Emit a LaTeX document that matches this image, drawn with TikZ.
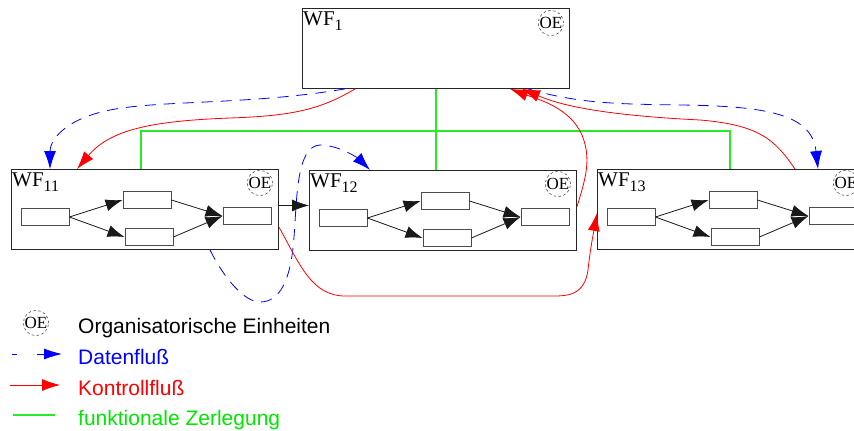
\documentclass[tikz,border=0pt]{standalone}
\usepackage{fontspec}
\setmainfont{Liberation Serif}
\newfontfamily\legfont{Liberation Sans}
\usetikzlibrary{arrows.meta,calc}
\definecolor{ublue}{RGB}{0,0,255}
\definecolor{ured}{RGB}{255,0,0}
\definecolor{ugreen}{RGB}{40,235,40}
\definecolor{ugreentext}{RGB}{0,230,0}
\tikzset{
 wf/.style={draw=black!85, line width=0.9pt, minimum width=267pt, minimum height=80pt, inner sep=0pt},
 wflabel/.style={inner xsep=1pt, inner ysep=4pt, font=\fontsize{21}{21}\selectfont},
 oe/.style={circle, draw=black!80, dash pattern=on 2.5pt off 2.5pt, line width=0.5pt, minimum size=22pt, inner sep=0pt, font=\fontsize{17}{17}\selectfont},
 task/.style={draw=black!70, line width=0.9pt, minimum width=48pt, minimum height=17pt, inner sep=0pt},
 flow/.style={draw=black!90, line width=0.8pt, -{Latex[length=17pt,width=12pt]}},
 dataflow/.style={draw=ublue, line width=0.8pt, dash pattern=on 11pt off 8pt, -{Latex[length=18pt,width=12pt]}},
 ctrlflow/.style={draw=ured, line width=0.8pt, -{Latex[length=18pt,width=12pt]}},
 func/.style={draw=ugreen, line width=1.4pt},
 legtext/.style={font=\legfont\fontsize{21}{21}\selectfont, inner sep=0pt, anchor=base west},
}
\newcommand{\WFbox}[4]{%
 \node[wf, anchor=north west] (#1) at (#3,#4) {};
 \node[wflabel, anchor=north west] (#1-lbl) at (#1.north west) {WF\raisebox{-5pt}{\fontsize{16}{16}\selectfont #2}};
 \node[oe] (#1-oe) at ($(#1.north east)+(-19,14)$) {OE};
 \node[task] (#1-a) at ($(#1.north west)+(34,48)$) {};
 \node[task] (#1-b) at ($(#1.north west)+(136,31)$) {};
 \node[task] (#1-c) at ($(#1.north west)+(138,68)$) {};
 \node[task] (#1-d) at ($(#1.north west)+(236,47)$) {};
 \draw[flow] (#1-a.east) -- (#1-b.west);
 \draw[flow] (#1-a.east) -- (#1-c.west);
 \draw[flow] (#1-b.east) -- (#1-d.west);
 \draw[flow] (#1-c.east) -- (#1-d.west);
}
\begin{document}
\begin{tikzpicture}[x=1pt,y=-1pt]
\useasboundingbox (0,0) rectangle (854,431);
\clip (0,0) rectangle (854,431);
\fill[white] (0,0) rectangle (854,431);
\coordinate (gh) at (0,131);

% top workflow
\node[wf, anchor=north west] (w1) at (302,8) {};
\node[wflabel, anchor=north west] (w1-lbl) at (w1.north west) {WF\raisebox{-5pt}{\fontsize{16}{16}\selectfont 1}};
\node[oe] (w1-oe) at ($(w1.north east)+(-19,15)$) {OE};

% sub workflows
\WFbox{w11}{11}{11}{169}
\WFbox{w12}{12}{309}{170}
\WFbox{w13}{13}{597}{169}

% WF11 -> WF12
\draw[flow] ($(w11.east)+(0,-4)$) -- ($(w12.west)+(0,-5)$);

% functional decomposition
\draw[func] (w1.south) -- (w1.south |- w12.north);
\draw[func] ($(w11.north)+(-4,0)$) -- ($(w11.north |- gh)+(-4,0)$) -- ($(w13.north |- gh)+(-1,0)$) -- ($(w13.north)+(-1,0)$);

% data flows
\coordinate (d1s) at ($(w1.south west)+(43,0)$);
\coordinate (d1e) at ($(w11.north west)+(39,0)$);
\draw[dataflow] (d1s) .. controls (250,105) and (160,100) .. (110,110) .. controls (65,119) and (50,140) .. (d1e);
\coordinate (d2s) at ($(w1.south west)+(226,0)$);
\coordinate (d2e) at ($(w13.north west)+(221,0)$);
\draw[dataflow] (d2s) .. controls (580,104) and (620,104) .. (680,105) .. controls (770,106) and (812,115) .. (d2e);
\coordinate (d3s) at ($(w11.south west)+(199,0)$);
\coordinate (d3e) at ($(w12.north west)+(61,0)$);
\draw[dataflow] (d3s) .. controls (225,280) and (245,302) .. (260,302) .. controls (280,302) and (291,280) .. (294,237) .. controls (297,200) and (296,146) .. (320,145) .. controls (340,145) and (360,160) .. (d3e);

% control flows
\coordinate (r1s) at ($(w1.south west)+(53,0)$);
\coordinate (r1e) at ($(w11.north west)+(66,0)$);
\draw[ctrlflow] (r1s) .. controls (320,110) and (290,116) .. (230,118) .. controls (150,121) and (110,130) .. (r1e);
\coordinate (r2s) at ($(w12.north east)+(0,37)$);
\coordinate (r2e) at ($(w1.south west)+(208,0)$);
\draw[ctrlflow] (r2s) .. controls (585,180) and (592,160) .. (582,135) .. controls (570,108) and (540,100) .. (r2e);
\coordinate (r3s) at ($(w13.north west)+(198,0)$);
\coordinate (r3e) at ($(w1.south west)+(220,0)$);
\draw[ctrlflow] (r3s) .. controls (775,140) and (760,125) .. (700,120) .. controls (600,115) and (560,105) .. (r3e);
\coordinate (r4s) at ($(w11.north east)+(0,58)$);
\coordinate (r4e) at ($(w13.north west)+(0,44)$);
\draw[ctrlflow] (r4s) .. controls (300,265) and (312,296) .. (345,296) -- (555,296) .. controls (575,296) and (585,290) .. (588,270) .. controls (590,250) and (594,230) .. (r4e);

% legend
\node[oe] (lg-oe) at (36,323) {OE};
\node[legtext] (lg-t1) at (78,333) {Organisatorische Einheiten};
\coordinate (lb1) at (12,354); \coordinate (lb2) at (17,354);
\coordinate (lb3) at (37,354); \coordinate (lb4) at (62,354);
\draw[ublue, line width=0.8pt] (lb1) -- (lb2);
\draw[ublue, line width=0.8pt, -{Latex[length=18pt,width=11pt]}] (lb3) -- (lb4);
\node[legtext, text=ublue] (lg-t2) at (78,364) {Datenfluß};
\coordinate (lr1) at (10,385); \coordinate (lr2) at (60,385);
\draw[ctrlflow] (lr1) -- (lr2);
\node[legtext, text=ured] (lg-t3) at (78,395) {Kontrollfluß};
\coordinate (lg1) at (13,415); \coordinate (lg2) at (55,415);
\draw[func] (lg1) -- (lg2);
\node[legtext, text=ugreentext] (lg-t4) at (78,425) {funktionale Zerlegung};
\end{tikzpicture}
\end{document}
